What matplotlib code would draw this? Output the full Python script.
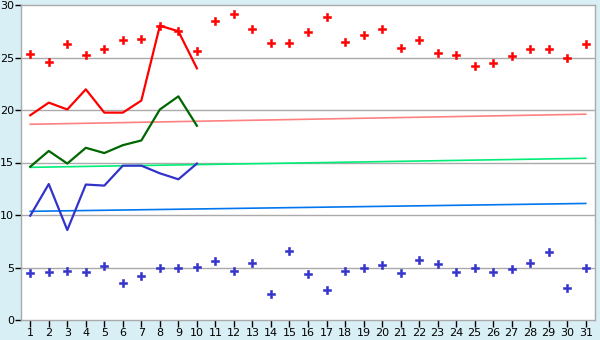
import matplotlib
matplotlib.use('Agg')
import matplotlib.pyplot as plt
import numpy as np

matplotlib.rcParams['font.family'] = 'DejaVu Sans'

# ---------------------------------------------------------------------------
# Data
# ---------------------------------------------------------------------------
days = list(range(1, 32))
line_days = list(range(1, 11))

red_points = [25.3, 24.6, 26.25, 25.2, 25.8, 26.7, 26.8, 28.0, 27.5, 25.6,
              28.5, 29.1, 27.7, 26.35, 26.35, 27.4, 28.9, 26.5, 27.1, 27.7,
              25.95, 26.7, 25.4, 25.2, 24.15, 24.45, 25.1, 25.8, 25.8, 25.0, 26.25]
blue_points = [4.44, 4.54, 4.67, 4.54, 5.1, 3.5, 4.16, 4.92, 4.92, 5.02,
               5.59, 4.63, 5.4, 2.45, 6.54, 4.35, 2.83, 4.63, 4.92, 5.2,
               4.44, 5.68, 5.3, 4.54, 4.92, 4.54, 4.83, 5.4, 6.44, 3.02, 4.92]

red_line = [19.5, 20.7, 20.05, 21.97, 19.75, 19.75, 20.9, 28.03, 27.5, 23.97]
green_line = [14.6, 16.1, 14.9, 16.4, 15.9, 16.65, 17.1, 20.05, 21.3, 18.5]
blue_line = [9.93, 12.95, 8.57, 12.9, 12.8, 14.7, 14.7, 13.97, 13.4, 14.9]

# trend lines: value at day 1 and at day 31
trend_days = [1, 31]
trend_red = [18.64, 19.6]
trend_green = [14.54, 15.4]
trend_blue = [10.35, 11.1]

# ---------------------------------------------------------------------------
# Plot
# ---------------------------------------------------------------------------
bg = '#d9eff6'
fig = plt.figure(figsize=(6.0, 3.4), dpi=100, facecolor=bg)
ax = fig.add_axes([21 / 600, 20 / 340, 574 / 600, 315 / 340])
ax.set_facecolor('white')

for y in [5, 10, 15, 20, 25]:
    ax.axhline(y, color='#aaaaaa', linewidth=1.0, zorder=1)

ax.plot(trend_days, trend_red, color='#ff8080', linewidth=1.2, zorder=2)
ax.plot(trend_days, trend_green, color='#00ee77', linewidth=1.2, zorder=2)
ax.plot(trend_days, trend_blue, color='#0077ee', linewidth=1.2, zorder=2)

ax.plot(line_days, red_line, color='#ff0000', linewidth=1.6, zorder=3)
ax.plot(line_days, green_line, color='#006600', linewidth=1.6, zorder=3)
ax.plot(line_days, blue_line, color='#3333cc', linewidth=1.6, zorder=3)

ax.plot(days, red_points, linestyle='none', marker='P', markersize=5.5,
        color='#ff0000', markeredgewidth=0.4, zorder=4)
ax.plot(days, blue_points, linestyle='none', marker='P', markersize=5.5,
        color='#3333cc', markeredgewidth=0.4, zorder=4)

ax.set_xlim(0.5, 31.5)
ax.set_ylim(0, 30)
ax.set_xticks(days)
ax.set_xticklabels([str(d) for d in days])
ax.set_yticks([0, 5, 10, 15, 20, 25, 30])

for s in ax.spines.values():
    s.set_color('#aaaaaa')
    s.set_linewidth(1.0)

ax.tick_params(axis='x', direction='out', length=5, width=1, color='black',
               labelsize=8, pad=1)
ax.tick_params(axis='y', direction='out', length=4, width=1, color='black',
               labelsize=8, pad=1)

plt.savefig('out.png', dpi=100, facecolor=bg)
plt.close()
